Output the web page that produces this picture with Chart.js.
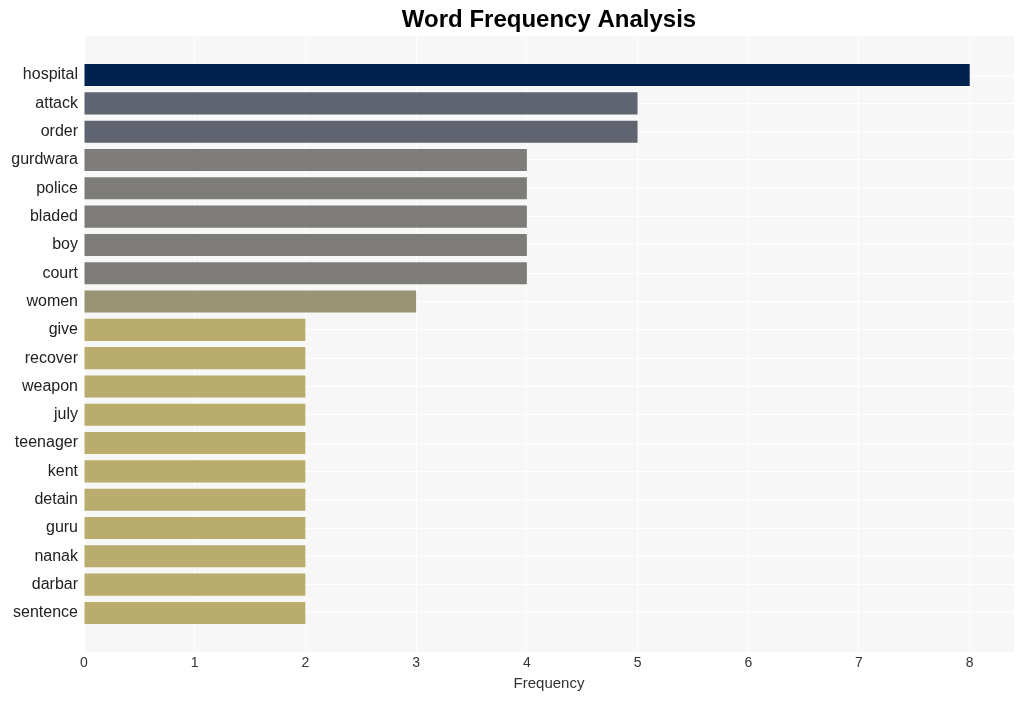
<!DOCTYPE html>
<html>
<head>
<meta charset="utf-8">
<script src="https://cdn.jsdelivr.net/npm/chart.js@4/dist/chart.umd.min.js"></script>
<style>
html,body{margin:0;padding:0;background:#fff;}
#wrap{width:1024px;height:701px;position:relative;}
</style>
</head>
<body>
<div id="wrap"><canvas id="c" width="1024" height="701"></canvas></div>
<script>
const words = ["hospital","attack","order","gurdwara","police","bladed","boy","court","women","give","recover","weapon","july","teenager","kent","detain","guru","nanak","darbar","sentence"];
const counts = [8,5,5,4,4,4,4,4,3,2,2,2,2,2,2,2,2,2,2,2];
const barColors = ["#00224e","#5f6470","#5f6470","#7d7c78","#7d7c78","#7d7c78","#7d7c78","#7d7c78","#9b9474","#b9ac6d","#b9ac6d","#b9ac6d","#b9ac6d","#b9ac6d","#b9ac6d","#b9ac6d","#b9ac6d","#b9ac6d","#b9ac6d","#b9ac6d"];
const xTicks = [0,1,2,3,4,5,6,7,8];
const chartTitle = "Word Frequency Analysis";
const xTitle = "Frequency";

const bgPlugin = {
  id: 'bg',
  beforeDraw(chart) {
    const {ctx, chartArea: a} = chart;
    ctx.save();
    ctx.fillStyle = '#f7f7f7';
    ctx.fillRect(a.left, a.top, a.right - a.left, a.bottom - a.top);
    ctx.restore();
  },
  afterDraw(chart) {
    const {ctx, chartArea: a} = chart;
    ctx.save();
    ctx.font = 'bold 24px "Liberation Sans", Arial, sans-serif';
    ctx.fillStyle = '#000';
    ctx.textAlign = 'center';
    ctx.textBaseline = 'middle';
    ctx.fillText(chartTitle, (a.left + a.right) / 2, 20);
    ctx.restore();
  }
};

new Chart(document.getElementById('c'), {
  type: 'bar',
  data: {
    datasets: [{
      data: counts.map((v, i) => ({x: v, y: i})),
      backgroundColor: barColors,
      borderWidth: 0,
      categoryPercentage: 1,
      barPercentage: 0.78
    }]
  },
  options: {
    indexAxis: 'y',
    responsive: false,
    animation: false,
    layout: {padding: {top: 36, right: 10, left: 0, bottom: 0}},
    plugins: {legend: {display: false}, title: {display: false}, tooltip: {enabled: false}},
    scales: {
      x: {
        type: 'linear',
        min: 0,
        max: 8.4,
        offset: false,
        afterBuildTicks(axis) { axis.ticks = xTicks.map(v => ({value: v})); },
        afterFit(axis) { axis.height = 49; },
        grid: {color: '#ffffff', lineWidth: 1, drawTicks: false, offset: false},
        border: {display: false},
        ticks: {color: '#333', font: {family: '"Liberation Sans", Arial, sans-serif', size: 14}, padding: 3},
        title: {display: true, text: xTitle, color: '#333', font: {family: '"Liberation Sans", Arial, sans-serif', size: 15}, padding: {top: 0, bottom: 8}}
      },
      y: {
        type: 'linear',
        reverse: true,
        min: -1.38,
        max: 20.38,
        offset: false,
        afterBuildTicks(axis) { axis.ticks = words.map((w, i) => ({value: i})); },
        afterFit(axis) { axis.width = 84; },
        grid: {color: '#ffffff', lineWidth: 1, drawTicks: false, offset: false},
        border: {display: false},
        ticks: {
          color: '#222',
          font: {family: '"Liberation Sans", Arial, sans-serif', size: 16},
          padding: 6,
          autoSkip: false,
          callback: (v) => words[v] !== undefined ? words[v] : ''
        }
      }
    }
  },
  plugins: [bgPlugin]
});
</script>
</body>
</html>
